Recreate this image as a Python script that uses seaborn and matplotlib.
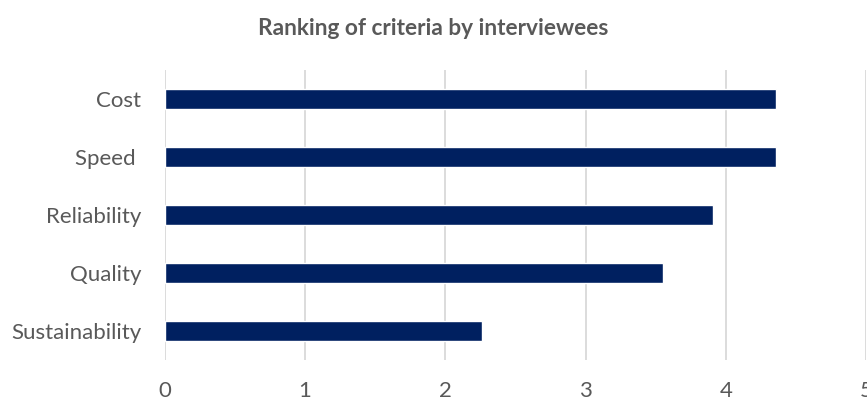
import matplotlib
matplotlib.use("Agg")
import matplotlib.pyplot as plt
import seaborn as sns
import pandas as pd

criteria = ["Cost", "Speed ", "Reliability", "Quality", "Sustainability"]
scores = [4.36, 4.36, 3.91, 3.55, 2.26]
x_ticks = [0, 1, 2, 3, 4, 5]

bar_color = "#002060"
text_color = "#595959"
grid_color = "#d9d9d9"

sns.set_theme(style="white")
plt.rcParams["font.family"] = ["Lato", "DejaVu Sans"]

df = pd.DataFrame({"criterion": criteria, "score": scores})

fig = plt.figure(figsize=(8.67, 4.01), dpi=100)
ax = fig.add_axes([0.190, 0.102, 0.809, 0.723])

sns.barplot(data=df, x="score", y="criterion", orient="h", color=bar_color,
            width=0.345, saturation=1, ax=ax, zorder=3)

ax.set_xlim(0, 5)
ax.set_xticks(x_ticks)
ax.set_xticklabels([str(t) for t in x_ticks])
ax.set_ylim(len(criteria) - 0.5, -0.5)
ax.grid(axis="x", color=grid_color, linewidth=1.3, zorder=0)
ax.grid(axis="y", visible=False)
for side in ["top", "right", "bottom", "left"]:
    ax.spines[side].set_visible(False)
ax.tick_params(axis="both", length=0, labelsize=16, colors=text_color)
ax.tick_params(axis="x", pad=15)
ax.tick_params(axis="y", pad=17)
ax.set_xlabel("")
ax.set_ylabel("")

fig.text(0.5, 0.928, "Ranking of criteria by interviewees", ha="center", va="center",
         fontsize=16.3, fontweight="bold", color=text_color)

fig.savefig("out.png", dpi=100)
